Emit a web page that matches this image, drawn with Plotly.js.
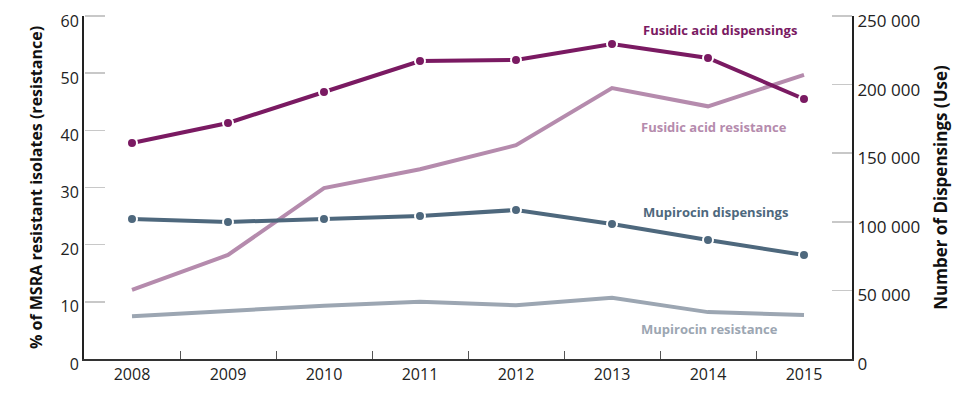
<!DOCTYPE html>
<html>
<head>
<meta charset="utf-8">
<script src="https://cdn.plot.ly/plotly-3.0.1.min.js"></script>
<style>html,body{margin:0;padding:0;background:#fff;}#chart{width:978px;height:395px;}</style>
</head>
<body>
<div id="chart"></div>
<script>
var years = ['2008','2009','2010','2011','2012','2013','2014','2015'];
var fusidicDispensings = [157400, 172000, 194600, 217200, 218000, 229600, 219400, 189500];
var fusidicResistance = [12.1, 18.2, 29.9, 33.2, 37.4, 47.4, 44.2, 49.7];
var mupirocinDispensings = [102000, 99900, 102000, 104200, 108600, 98400, 86700, 75800];
var mupirocinResistance = [7.5, 8.4, 9.3, 10.0, 9.4, 10.7, 8.2, 7.7];
var leftTicks = [0,10,20,30,40,50,60];
var rightTicks = [0,50000,100000,150000,200000,250000];

var cPurple = '#7a1a62', cPurpleLight = '#b58bad', cBlue = '#4e687d', cGray = '#9ca6b2';
var font = 'Liberation Sans Narrow, Arial Narrow, Open Sans, sans-serif';
var boldFont = 'Open Sans, sans-serif';

var traces = [
  {x: years, y: fusidicResistance, yaxis: 'y3', mode: 'lines', line: {width: 0}, opacity: 0, hoverinfo: 'none'},
  {x: years, y: fusidicDispensings, yaxis: 'y4', mode: 'lines', line: {width: 0}, opacity: 0, hoverinfo: 'none'},
  {x: years, y: fusidicResistance, yaxis: 'y', mode: 'lines', line: {color: cPurpleLight, width: 4}, hoverinfo: 'none'},
  {x: years, y: mupirocinResistance, yaxis: 'y', mode: 'lines', line: {color: cGray, width: 4}, hoverinfo: 'none'},
  {x: years, y: fusidicDispensings, yaxis: 'y2', mode: 'lines+markers', line: {color: cPurple, width: 4},
   marker: {size: 10, color: cPurple, line: {color: '#fff', width: 2}}, hoverinfo: 'none'},
  {x: years, y: mupirocinDispensings, yaxis: 'y2', mode: 'lines+markers', line: {color: cBlue, width: 4},
   marker: {size: 10, color: cBlue, line: {color: '#fff', width: 2}}, hoverinfo: 'none'}
];

function ann(text, x, y, color) {
  return {text: '<b>' + text + '</b>', xref: 'paper', yref: 'paper', x: x, y: y, showarrow: false,
          xanchor: 'center', yanchor: 'middle', font: {family: boldFont, size: 13, color: color}};
}

function stubAxis(range, vals, side) {
  return {range: range, tickvals: vals, overlaying: 'y', anchor: 'free', position: side === 'right' ? 0 : 1,
          side: side, showline: false, showgrid: false, zeroline: false, showticklabels: false,
          ticks: 'outside', ticklen: 20, tickcolor: '#c8c8c8', tickwidth: 1.5};
}

var layout = {
  width: 978, height: 395,
  margin: {l: 84, r: 126, t: 16, b: 36},
  paper_bgcolor: '#fff', plot_bgcolor: '#fff',
  showlegend: false,
  separators: '. ',
  xaxis: {
    type: 'category', range: [-0.5, 7.5], showgrid: false, zeroline: false,
    showline: true, linecolor: '#333', linewidth: 2,
    ticks: 'inside', tickson: 'boundaries', ticklen: 8, tickcolor: '#555', tickwidth: 1,
    tickfont: {family: font, size: 16, color: '#222'}, fixedrange: true
  },
  yaxis: {
    range: [0, 60], tickvals: leftTicks, showgrid: false, zeroline: false,
    showline: true, linecolor: '#222', linewidth: 2,
    ticks: '', ticklabelshift: 5, ticklabeloverflow: 'allow',
    tickfont: {family: font, size: 16, color: '#222'},
    title: {text: '<b>% of MSRA resistant isolates (resistance)</b>', standoff: 14, font: {family: boldFont, size: 16, color: '#111'}}
  },
  yaxis2: {
    range: [0, 250000], tickvals: rightTicks, tickformat: ',', overlaying: 'y', side: 'right',
    showgrid: false, zeroline: false, showline: true, linecolor: '#222', linewidth: 2,
    ticks: '', ticklabelshift: 5, ticklabeloverflow: 'allow',
    tickfont: {family: font, size: 17, color: '#222'},
    title: {text: '<b>Number of Dispensings (Use)</b>', standoff: 16, font: {family: boldFont, size: 17, color: '#111'}}
  },
  yaxis3: stubAxis([0, 60], leftTicks.slice(1), 'right'),
  yaxis4: stubAxis([0, 250000], rightTicks.slice(1), 'left'),
  annotations: [
    ann('Fusidic acid dispensings', 0.828, 0.959, cPurple),
    ann('Fusidic acid resistance', 0.82, 0.676, cPurpleLight),
    ann('Mupirocin dispensings', 0.822, 0.429, cBlue),
    ann('Mupirocin resistance', 0.815, 0.087, cGray)
  ]
};

Plotly.newPlot('chart', traces, layout, {displayModeBar: false, staticPlot: true});
</script>
</body>
</html>
